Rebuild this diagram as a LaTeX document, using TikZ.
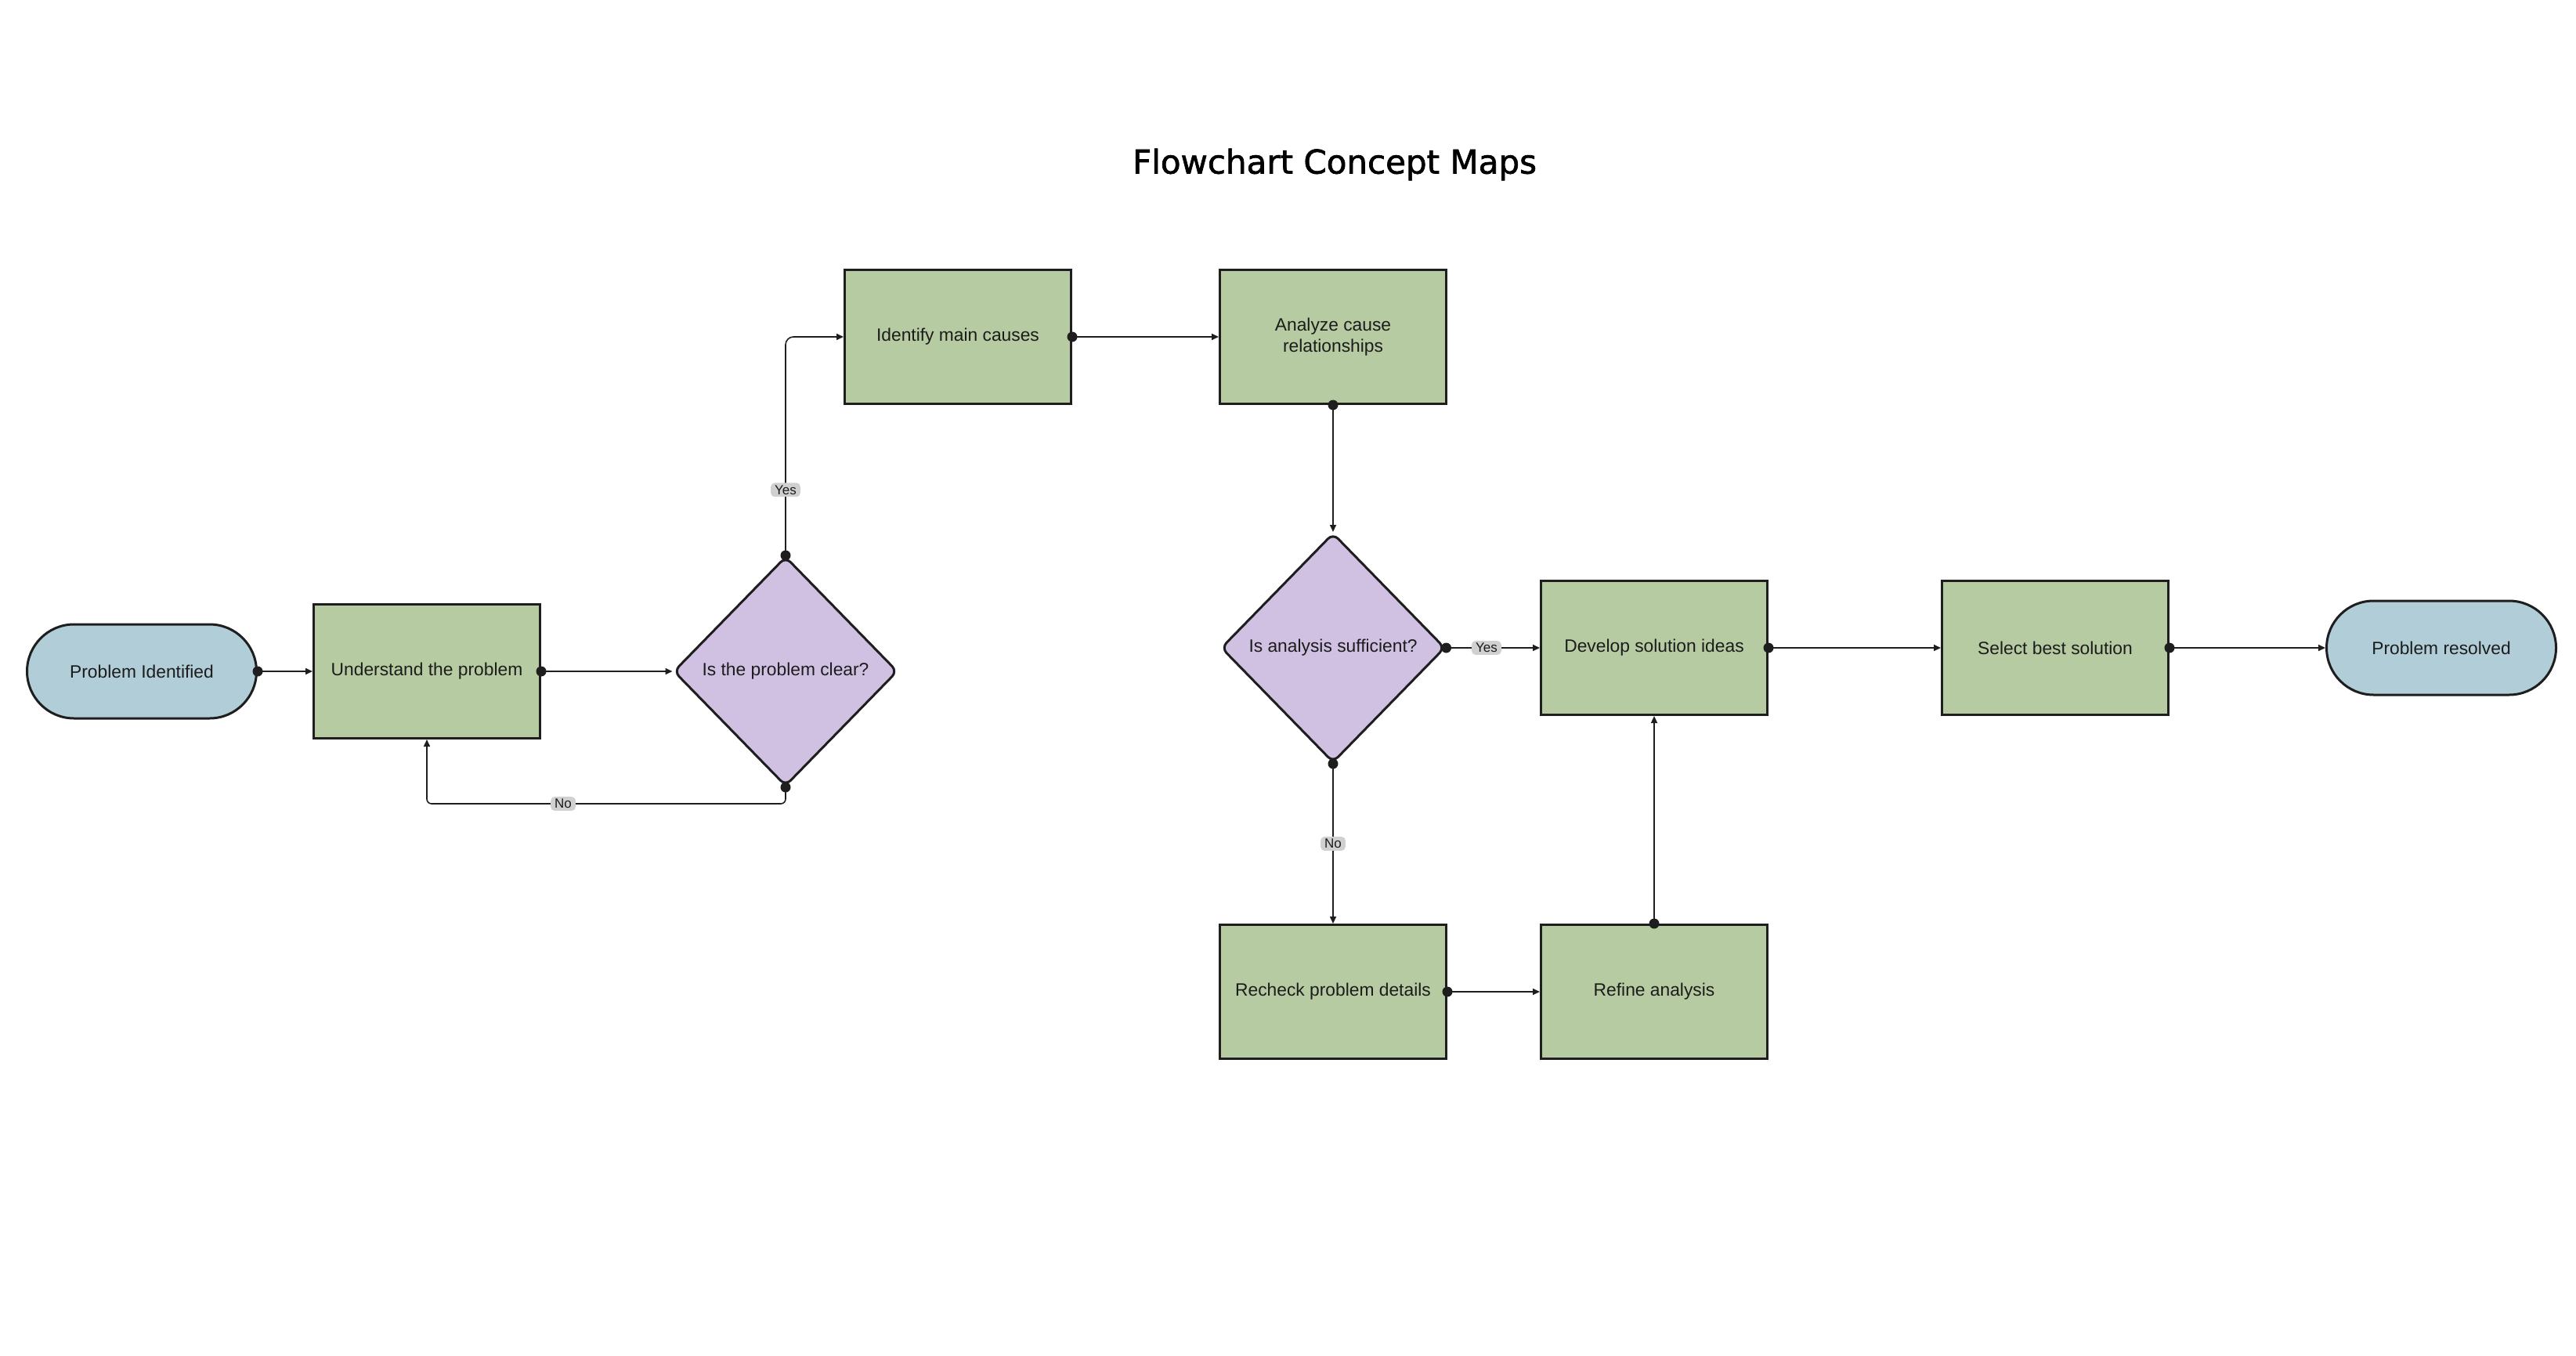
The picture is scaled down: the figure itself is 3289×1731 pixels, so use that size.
\documentclass[tikz,border=0pt]{standalone}
\usepackage{fontspec}
\setmainfont{Liberation Sans}
\newfontfamily\titlefont[FakeBold=1.6]{DejaVu Sans}
\usetikzlibrary{shapes.geometric,shapes.misc,arrows.meta}
\definecolor{boxgreen}{HTML}{B6CBA1}
\definecolor{termblue}{HTML}{B1CDD7}
\definecolor{decpurple}{HTML}{D0C1E3}
\definecolor{edgecol}{HTML}{1E1E1E}
\definecolor{txtcol}{HTML}{1C1C1C}
\definecolor{labgray}{HTML}{D0D0D0}
\begin{document}
\begin{tikzpicture}[x=1pt,y=-1pt,
  nodefont/.style={font=\fontsize{22.8}{27}\selectfont, text=txtcol},
  stepbox/.style={nodefont, draw=edgecol, line width=3pt, fill=boxgreen,
    minimum width=289pt, minimum height=171pt, inner sep=0pt, align=center},
  term/.style={nodefont, rounded rectangle, draw=edgecol, line width=3pt, fill=termblue,
    minimum width=293pt, minimum height=120pt, inner sep=0pt},
  decide/.style={nodefont, diamond, draw=edgecol, line width=3pt, fill=decpurple,
    minimum width=286pt, minimum height=293pt, inner sep=0pt, rounded corners=9pt},
  conn/.style={draw=edgecol, line width=1.6pt, -{Triangle[length=9pt,width=8pt]}},
  dot/.style={fill=edgecol},
  lab/.style={fill=labgray, rounded corners=5pt, inner xsep=5pt, inner ysep=3pt,
    font=\fontsize{17}{20}\selectfont, text=txtcol}
]
\useasboundingbox (0,0) rectangle (3289,1731);
\fill[white] (0,0) rectangle (3289,1731);

\node[font=\titlefont\fontsize{42}{50}\selectfont, text=black] (title) at (1704,210) {Flowchart Concept Maps};

\node[term] (pi) at (181,857) {Problem Identified};
\node[stepbox] (und) at (545,857) {Understand the problem};
\node[decide] (d1) at (1003,857) {Is the problem clear?};
\node[stepbox] (idc) at (1223,430) {Identify main causes};
\node[stepbox] (ana) at (1702,430) {Analyze cause\\relationships};
\node[decide] (d2) at (1702,827) {Is analysis sufficient?};
\node[stepbox] (dev) at (2112,827) {Develop solution ideas};
\node[stepbox] (sel) at (2624,827) {Select best solution};
\node[term] (res) at (3117,827) {Problem resolved};
\node[stepbox] (rec) at (1702,1266) {Recheck problem details};
\node[stepbox] (ref) at (2112,1266) {Refine analysis};

% connectors
\draw[conn] (pi.east) -- (und.west);
\draw[conn] (und.east) -- (d1.west);
\draw[conn, rounded corners=10pt] (d1.north) |- (idc.west) node[pos=0.15, lab] {Yes};
\draw[conn, rounded corners=6pt] (d1.south) -- ++(0,21) coordinate (nobend) -| (und.south) node[pos=0.31, lab] {No};
\draw[conn] (idc.east) -- (ana.west);
\draw[conn] (ana.south) -- (d2.north);
\draw[conn] (d2.east) -- (dev.west) node[pos=0.43, lab] {Yes};
\draw[conn] (d2.south) -- (rec.north) node[midway, lab] {No};
\draw[conn] (rec.east) -- (ref.west);
\draw[conn] (ref.north) -- (dev.south);
\draw[conn] (dev.east) -- (sel.west);
\draw[conn] (sel.east) -- (res.west);

% start dots
\foreach \p in {pi.east, und.east, d1.north, d1.south, idc.east, ana.south, d2.east, d2.south, rec.east, ref.north, dev.east, sel.east}
  \fill[dot] (\p) circle (6.5pt);
\end{tikzpicture}
\end{document}
